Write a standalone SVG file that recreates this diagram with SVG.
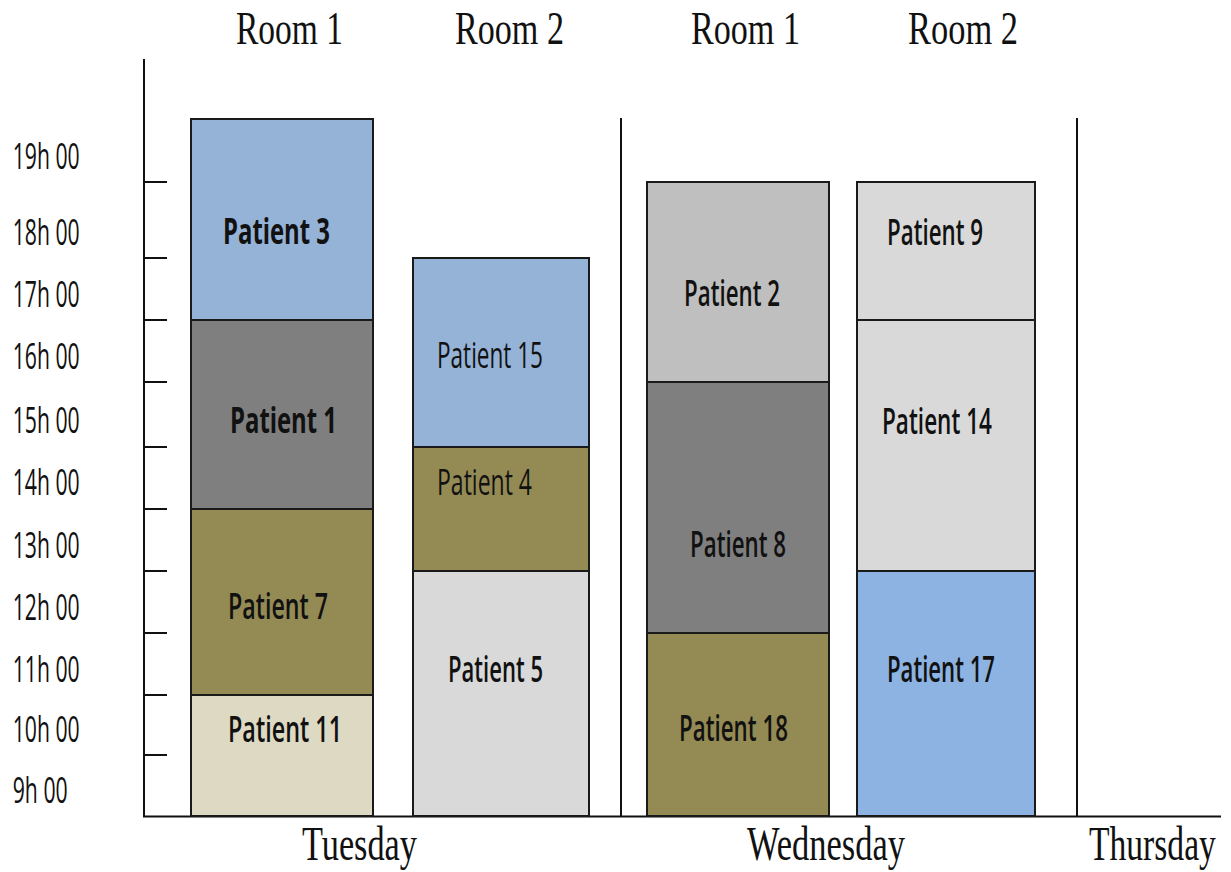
<svg xmlns="http://www.w3.org/2000/svg" width="1231" height="872" viewBox="0 0 1231 872">
<style>
.bg{fill:#ffffff}
.ax{stroke:#111;stroke-width:2;fill:none}
.box{stroke:#1a1a1a;stroke-width:2}
.blue{fill:#95b3d7}
.blue2{fill:#8db3e2}
.dgray{fill:#7f7f7f}
.olive{fill:#948a54}
.cream{fill:#ddd9c3}
.lgray{fill:#d9d9d9}
.mgray{fill:#bfbfbf}
.tl{font-family:"Open Sans","Liberation Sans",sans-serif;font-size:36px;fill:#111;font-weight:500}
.pl{font-family:"Open Sans","Liberation Sans",sans-serif;font-size:36px;fill:#111;font-weight:600}
.pb{font-weight:700}
.pr{font-weight:400}
.hd{font-family:"Liberation Serif","Times New Roman",serif;font-size:47px;fill:#111}
.dy{font-family:"Liberation Serif","Times New Roman",serif;font-size:48px;fill:#111}
</style>
<rect class="bg" x="0" y="0" width="1231" height="872"/>

<g id="axes">
<line class="ax" x1="144" y1="59" x2="144" y2="817"/>
<line class="ax" x1="143" y1="816.5" x2="1221" y2="816.5"/>
<line class="ax" x1="621" y1="118" x2="621" y2="816"/>
<line class="ax" x1="1077" y1="118" x2="1077" y2="816"/>
<line class="ax" x1="144" y1="182" x2="167" y2="182"/>
<line class="ax" x1="144" y1="258" x2="167" y2="258"/>
<line class="ax" x1="144" y1="320" x2="167" y2="320"/>
<line class="ax" x1="144" y1="382" x2="167" y2="382"/>
<line class="ax" x1="144" y1="447" x2="167" y2="447"/>
<line class="ax" x1="144" y1="509" x2="167" y2="509"/>
<line class="ax" x1="144" y1="571" x2="167" y2="571"/>
<line class="ax" x1="144" y1="633" x2="167" y2="633"/>
<line class="ax" x1="144" y1="695" x2="167" y2="695"/>
<line class="ax" x1="144" y1="755" x2="167" y2="755"/>
</g>

<g id="time-labels">
<text class="tl" x="12.7" y="169" textLength="67" lengthAdjust="spacingAndGlyphs">19h 00</text>
<text class="tl" x="12.7" y="245" textLength="67" lengthAdjust="spacingAndGlyphs">18h 00</text>
<text class="tl" x="12.7" y="307" textLength="67" lengthAdjust="spacingAndGlyphs">17h 00</text>
<text class="tl" x="12.7" y="369" textLength="67" lengthAdjust="spacingAndGlyphs">16h 00</text>
<text class="tl" x="12.7" y="433" textLength="67" lengthAdjust="spacingAndGlyphs">15h 00</text>
<text class="tl" x="12.7" y="495" textLength="67" lengthAdjust="spacingAndGlyphs">14h 00</text>
<text class="tl" x="12.7" y="558" textLength="67" lengthAdjust="spacingAndGlyphs">13h 00</text>
<text class="tl" x="12.7" y="620" textLength="67" lengthAdjust="spacingAndGlyphs">12h 00</text>
<text class="tl" x="12.7" y="682" textLength="67" lengthAdjust="spacingAndGlyphs">11h 00</text>
<text class="tl" x="12.7" y="742" textLength="67" lengthAdjust="spacingAndGlyphs">10h 00</text>
<text class="tl" x="12.7" y="803" textLength="55" lengthAdjust="spacingAndGlyphs">9h 00</text>
</g>

<g id="headers">
<text class="hd" x="236" y="44" textLength="107" lengthAdjust="spacingAndGlyphs">Room 1</text>
<text class="hd" x="455" y="44" textLength="109" lengthAdjust="spacingAndGlyphs">Room 2</text>
<text class="hd" x="691" y="44" textLength="109" lengthAdjust="spacingAndGlyphs">Room 1</text>
<text class="hd" x="908" y="44" textLength="110" lengthAdjust="spacingAndGlyphs">Room 2</text>
<text class="dy" x="302" y="860" textLength="115" lengthAdjust="spacingAndGlyphs">Tuesday</text>
<text class="dy" x="747" y="860" textLength="158" lengthAdjust="spacingAndGlyphs">Wednesday</text>
<text class="dy" transform="translate(1089,860) scale(0.7,1)" x="0" y="0">Thursday</text>
</g>

<g id="patient-3"><rect class="box blue" x="191" y="119" width="182" height="201"/><text class="pl pb" x="223" y="244" textLength="107" lengthAdjust="spacingAndGlyphs">Patient 3</text></g>
<g id="patient-1"><rect class="box dgray" x="191" y="320" width="182" height="189"/><text class="pl pb" x="230" y="433" textLength="107" lengthAdjust="spacingAndGlyphs">Patient 1</text></g>
<g id="patient-7"><rect class="box olive" x="191" y="509" width="182" height="186"/><text class="pl" x="228" y="619" textLength="100" lengthAdjust="spacingAndGlyphs">Patient 7</text></g>
<g id="patient-11"><rect class="box cream" x="191" y="695" width="182" height="121"/><text class="pl" x="228" y="742" textLength="114" lengthAdjust="spacingAndGlyphs">Patient 11</text></g>

<g id="patient-15"><rect class="box blue" x="413" y="258" width="176" height="189"/><text class="pl pr" x="437" y="368" textLength="106" lengthAdjust="spacingAndGlyphs">Patient 15</text></g>
<g id="patient-4"><rect class="box olive" x="413" y="447" width="176" height="124"/><text class="pl pr" x="437" y="495" textLength="95" lengthAdjust="spacingAndGlyphs">Patient 4</text></g>
<g id="patient-5"><rect class="box lgray" x="413" y="571" width="176" height="245"/><text class="pl" x="448" y="682" textLength="95" lengthAdjust="spacingAndGlyphs">Patient 5</text></g>

<g id="patient-2"><rect class="box mgray" x="647" y="182" width="182" height="200"/><text class="pl" x="684" y="306" textLength="96" lengthAdjust="spacingAndGlyphs">Patient 2</text></g>
<g id="patient-8"><rect class="box dgray" x="647" y="382" width="182" height="251"/><text class="pl" x="690" y="557" textLength="96" lengthAdjust="spacingAndGlyphs">Patient 8</text></g>
<g id="patient-18"><rect class="box olive" x="647" y="633" width="182" height="183"/><text class="pl" x="679" y="741" textLength="109" lengthAdjust="spacingAndGlyphs">Patient 18</text></g>

<g id="patient-9"><rect class="box lgray" x="857" y="182" width="178" height="138"/><text class="pl" x="887" y="245" textLength="96" lengthAdjust="spacingAndGlyphs">Patient 9</text></g>
<g id="patient-14"><rect class="box lgray" x="857" y="320" width="178" height="251"/><text class="pl" x="882" y="434" textLength="110" lengthAdjust="spacingAndGlyphs">Patient 14</text></g>
<g id="patient-17"><rect class="box blue2" x="857" y="571" width="178" height="245"/><text class="pl" x="887" y="682" textLength="108" lengthAdjust="spacingAndGlyphs">Patient 17</text></g>
</svg>
